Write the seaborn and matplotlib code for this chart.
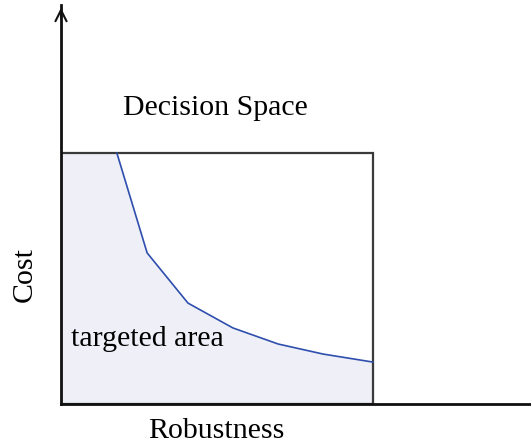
import numpy as np
import pandas as pd
import matplotlib
matplotlib.use("Agg")
import matplotlib.pyplot as plt
import seaborn as sns
from matplotlib.patches import Rectangle

# Trade-off curve (box units: decision space is 0..1 on both axes)
robustness = [0.179, 0.276, 0.407, 0.551, 0.696, 0.840, 1.0]
cost = [1.0, 0.602, 0.402, 0.303, 0.239, 0.199, 0.167]

x_label = "Robustness"
y_label = "Cost"
box_label = "Decision Space"
area_label = "targeted area"

df = pd.DataFrame({"Robustness": robustness, "Cost": cost})

sns.set_style("white")
plt.rcParams['font.family'] = ['Liberation Serif', 'DejaVu Serif']
plt.rcParams['text.color'] = 'black'

fig = plt.figure(figsize=(5.31, 4.46), dpi=100)
ax = fig.add_axes([61 / 531, 42 / 446, 470 / 531, 399 / 446])

# shaded targeted area (below the curve, inside the box)
fill_x = [0.0] + robustness
fill_y = [1.0] + cost
ax.fill_between(fill_x, 0, fill_y, color="#eff0f7", zorder=1)

# decision space box
ax.add_patch(Rectangle((0, 0), 1, 1, fill=False, edgecolor="#3a3a3a", lw=1.6, zorder=3))

sns.lineplot(data=df, x="Robustness", y="Cost", color="#2f4fae", lw=1.2, ax=ax,
             sort=False, zorder=4)

ax.set_xlim(0, 470 / 312)
ax.set_ylim(0, 399 / 251)

for s in ["top", "right"]:
    ax.spines[s].set_visible(False)
for s in ["left", "bottom"]:
    ax.spines[s].set_color("#111111")
    ax.spines[s].set_linewidth(2)
    ax.spines[s].set_zorder(5)
ax.set_xticks([])
ax.set_yticks([])
ax.set_xlabel("")
ax.set_ylabel("")

# arrow head on the y axis
ax.annotate("", xy=(0, 1.0), xytext=(0, 0.96), xycoords="axes fraction",
            arrowprops=dict(arrowstyle="->", color="#111111", lw=1.5,
                            mutation_scale=20), annotation_clip=False)

ax.text(0.494, 1.18, box_label, fontsize=21.5, ha="center", va="center")
ax.text(0.276, 0.259, area_label, fontsize=21.5, ha="center", va="center")
fig.text(216 / 531, 1 - 431 / 446, x_label, fontsize=21.5, ha="center", va="center")
fig.text(25 / 531, 1 - 275 / 446, y_label, fontsize=21.5, ha="center", va="center",
         rotation=90)

fig.savefig("out.png", dpi=100)
